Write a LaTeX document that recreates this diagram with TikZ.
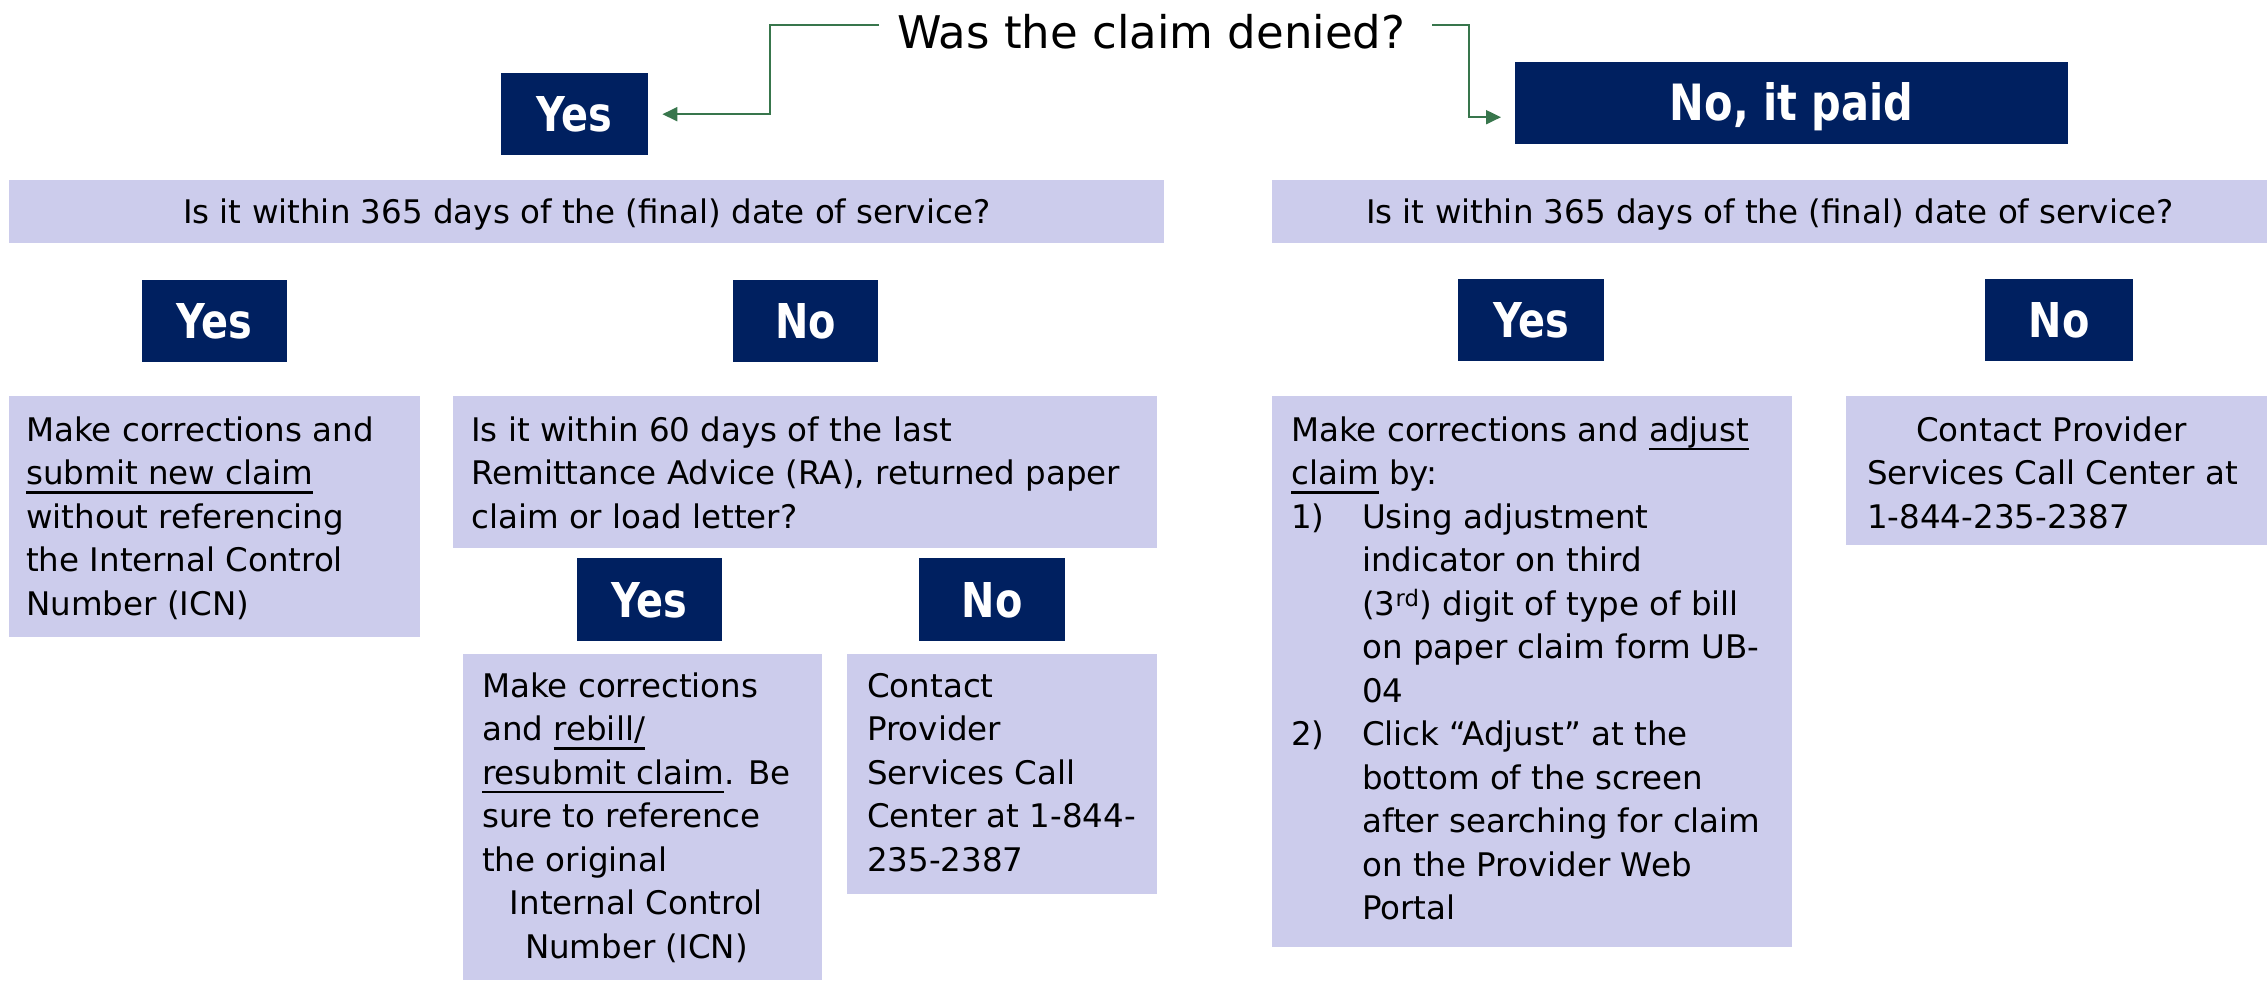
\documentclass[tikz,border=0pt]{standalone}
\usepackage{fontspec}
\setmainfont{DejaVu Sans}
\newfontfamily\navyfont{DejaVu Sans}[FakeStretch=0.83]
\usetikzlibrary{calc,arrows.meta}
\definecolor{navy}{RGB}{0,32,96}
\definecolor{lav}{RGB}{204,204,236}
\definecolor{conngreen}{RGB}{56,118,76}
\newcommand\myul[1]{\setbox0=\hbox{#1}\rlap{\rule[-9pt]{\wd0}{2.6pt}}\box0\relax}
\tikzset{
  navybox/.style={fill=navy, text=white, inner sep=0pt, anchor=north west,
    text height=35pt, text depth=0pt,
    font=\navyfont\bfseries\fontsize{48}{52}\selectfont},
  lavbox/.style={fill=lav, inner sep=0pt, anchor=north west},
  bartext/.style={lavbox, text height=24pt, text depth=0pt,
    font=\fontsize{32.5}{43.5}\selectfont},
  bodytext/.style={inner sep=0pt, anchor=north west,
    font=\fontsize{32.5}{43.5}\selectfont},
  conn/.style={draw=conngreen, line width=2pt,
    -{Triangle[length=15pt,width=14pt]}, shorten >=14pt},
}
\begin{document}
\begin{tikzpicture}[x=1pt,y=-1pt]
\useasboundingbox (0,0) rectangle (2267,980);

% title
\node[inner sep=0pt, anchor=base west, font=\fontsize{45}{54}\selectfont] (title) at (897,48) {Was the claim denied?};

% top answers
\node[navybox, minimum width=147pt, minimum height=82pt] (yesTop) at (501,73) {Yes};
\node[navybox, minimum width=553pt, minimum height=82pt,
  font=\navyfont\bfseries\fontsize{50}{54}\selectfont] (noTop) at (1515,62) {No, it paid};

\draw[conn] ($(title.west)+(-18,-6)$) -| ($(yesTop.east)+(122,0)$) -- (yesTop.east);
\draw[conn] ($(title.east)+(27,-6)$) -| ($(noTop.west)+(-46,14)$) -- ($(noTop.west)+(0,14)$);

% question bars
\node[bartext, minimum width=1155pt, minimum height=63pt] (barL) at (9,180)
  {Is it within 365 days of the (final) date of service?};
\node[bartext, minimum width=995pt, minimum height=63pt] (barR) at (1272,180)
  {Is it within 365 days of the (final) date of service?};

% level 2 answers
\node[navybox, minimum width=145pt, minimum height=82pt] (lYes) at (142,280) {Yes};
\node[navybox, minimum width=145pt, minimum height=82pt] (lNo) at (733,280) {No};
\node[navybox, minimum width=146pt, minimum height=82pt] (rYes) at (1458,279) {Yes};
\node[navybox, minimum width=148pt, minimum height=82pt] (rNo) at (1985,279) {No};

% level 2 boxes
\node[lavbox, minimum width=411pt, minimum height=241pt] (boxA) at (9,396) {};
\node[bodytext] (tA) at ($(boxA.north west)+(17,14.5)$) {\begin{tabular}[t]{@{}l@{}}
Make corrections and\\
\myul{submit new claim}\\
without referencing\\
the Internal Control\\
Number (ICN)
\end{tabular}};

\node[lavbox, minimum width=704pt, minimum height=152pt] (boxB) at (453,396) {};
\node[bodytext] (tB) at ($(boxB.north west)+(18,14.5)$) {\begin{tabular}[t]{@{}l@{}}
Is it within 60 days of the last\\
Remittance Advice (RA), returned paper\\
claim or load letter?
\end{tabular}};

\node[lavbox, minimum width=520pt, minimum height=551pt] (boxC) at (1272,396) {};
\node[bodytext] (tC) at ($(boxC.north west)+(19,14.5)$) {\begin{tabular}[t]{@{}l@{}}
Make corrections and \myul{adjust}\\
\myul{claim} by:\\
\makebox[71pt][l]{1)}Using adjustment\\
\hspace*{71pt}indicator on third\\
\hspace*{71pt}(3\textsuperscript{rd}) digit of type of bill\\
\hspace*{71pt}on paper claim form UB-\\
\hspace*{71pt}04\\
\makebox[71pt][l]{2)}Click “Adjust” at the\\
\hspace*{71pt}bottom of the screen\\
\hspace*{71pt}after searching for claim\\
\hspace*{71pt}on the Provider Web\\
\hspace*{71pt}Portal
\end{tabular}};

\node[lavbox, minimum width=421pt, minimum height=149pt] (boxD) at (1846,396) {};
\node[bodytext] (tD) at ($(boxD.north west)+(21,14.5)$) {\begin{tabular}[t]{@{}l@{}}
\hspace*{49pt}Contact Provider\\
Services Call Center at\\
1-844-235-2387
\end{tabular}};

% level 3 answers
\node[navybox, minimum width=145pt, minimum height=83pt] (yes3) at (577,558) {Yes};
\node[navybox, minimum width=146pt, minimum height=83pt] (no3) at (919,558) {No};

\node[lavbox, minimum width=359pt, minimum height=326pt] (boxE) at (463,654) {};
\node[bodytext] (tE) at ($(boxE.north west)+(19,12.5)$) {\begin{tabular}[t]{@{}l@{}}
Make corrections\\
and \myul{rebill/}\\
\myul{resubmit claim}. Be\\
sure to reference\\
the original\\
\multicolumn{1}{@{}c@{}}{Internal Control}\\
\multicolumn{1}{@{}c@{}}{Number (ICN)}
\end{tabular}};

\node[lavbox, minimum width=310pt, minimum height=240pt] (boxF) at (847,654) {};
\node[bodytext] (tF) at ($(boxF.north west)+(20,12.5)$) {\begin{tabular}[t]{@{}l@{}}
Contact\\
Provider\\
Services Call\\
Center at 1-844-\\
235-2387
\end{tabular}};
\end{tikzpicture}
\end{document}
